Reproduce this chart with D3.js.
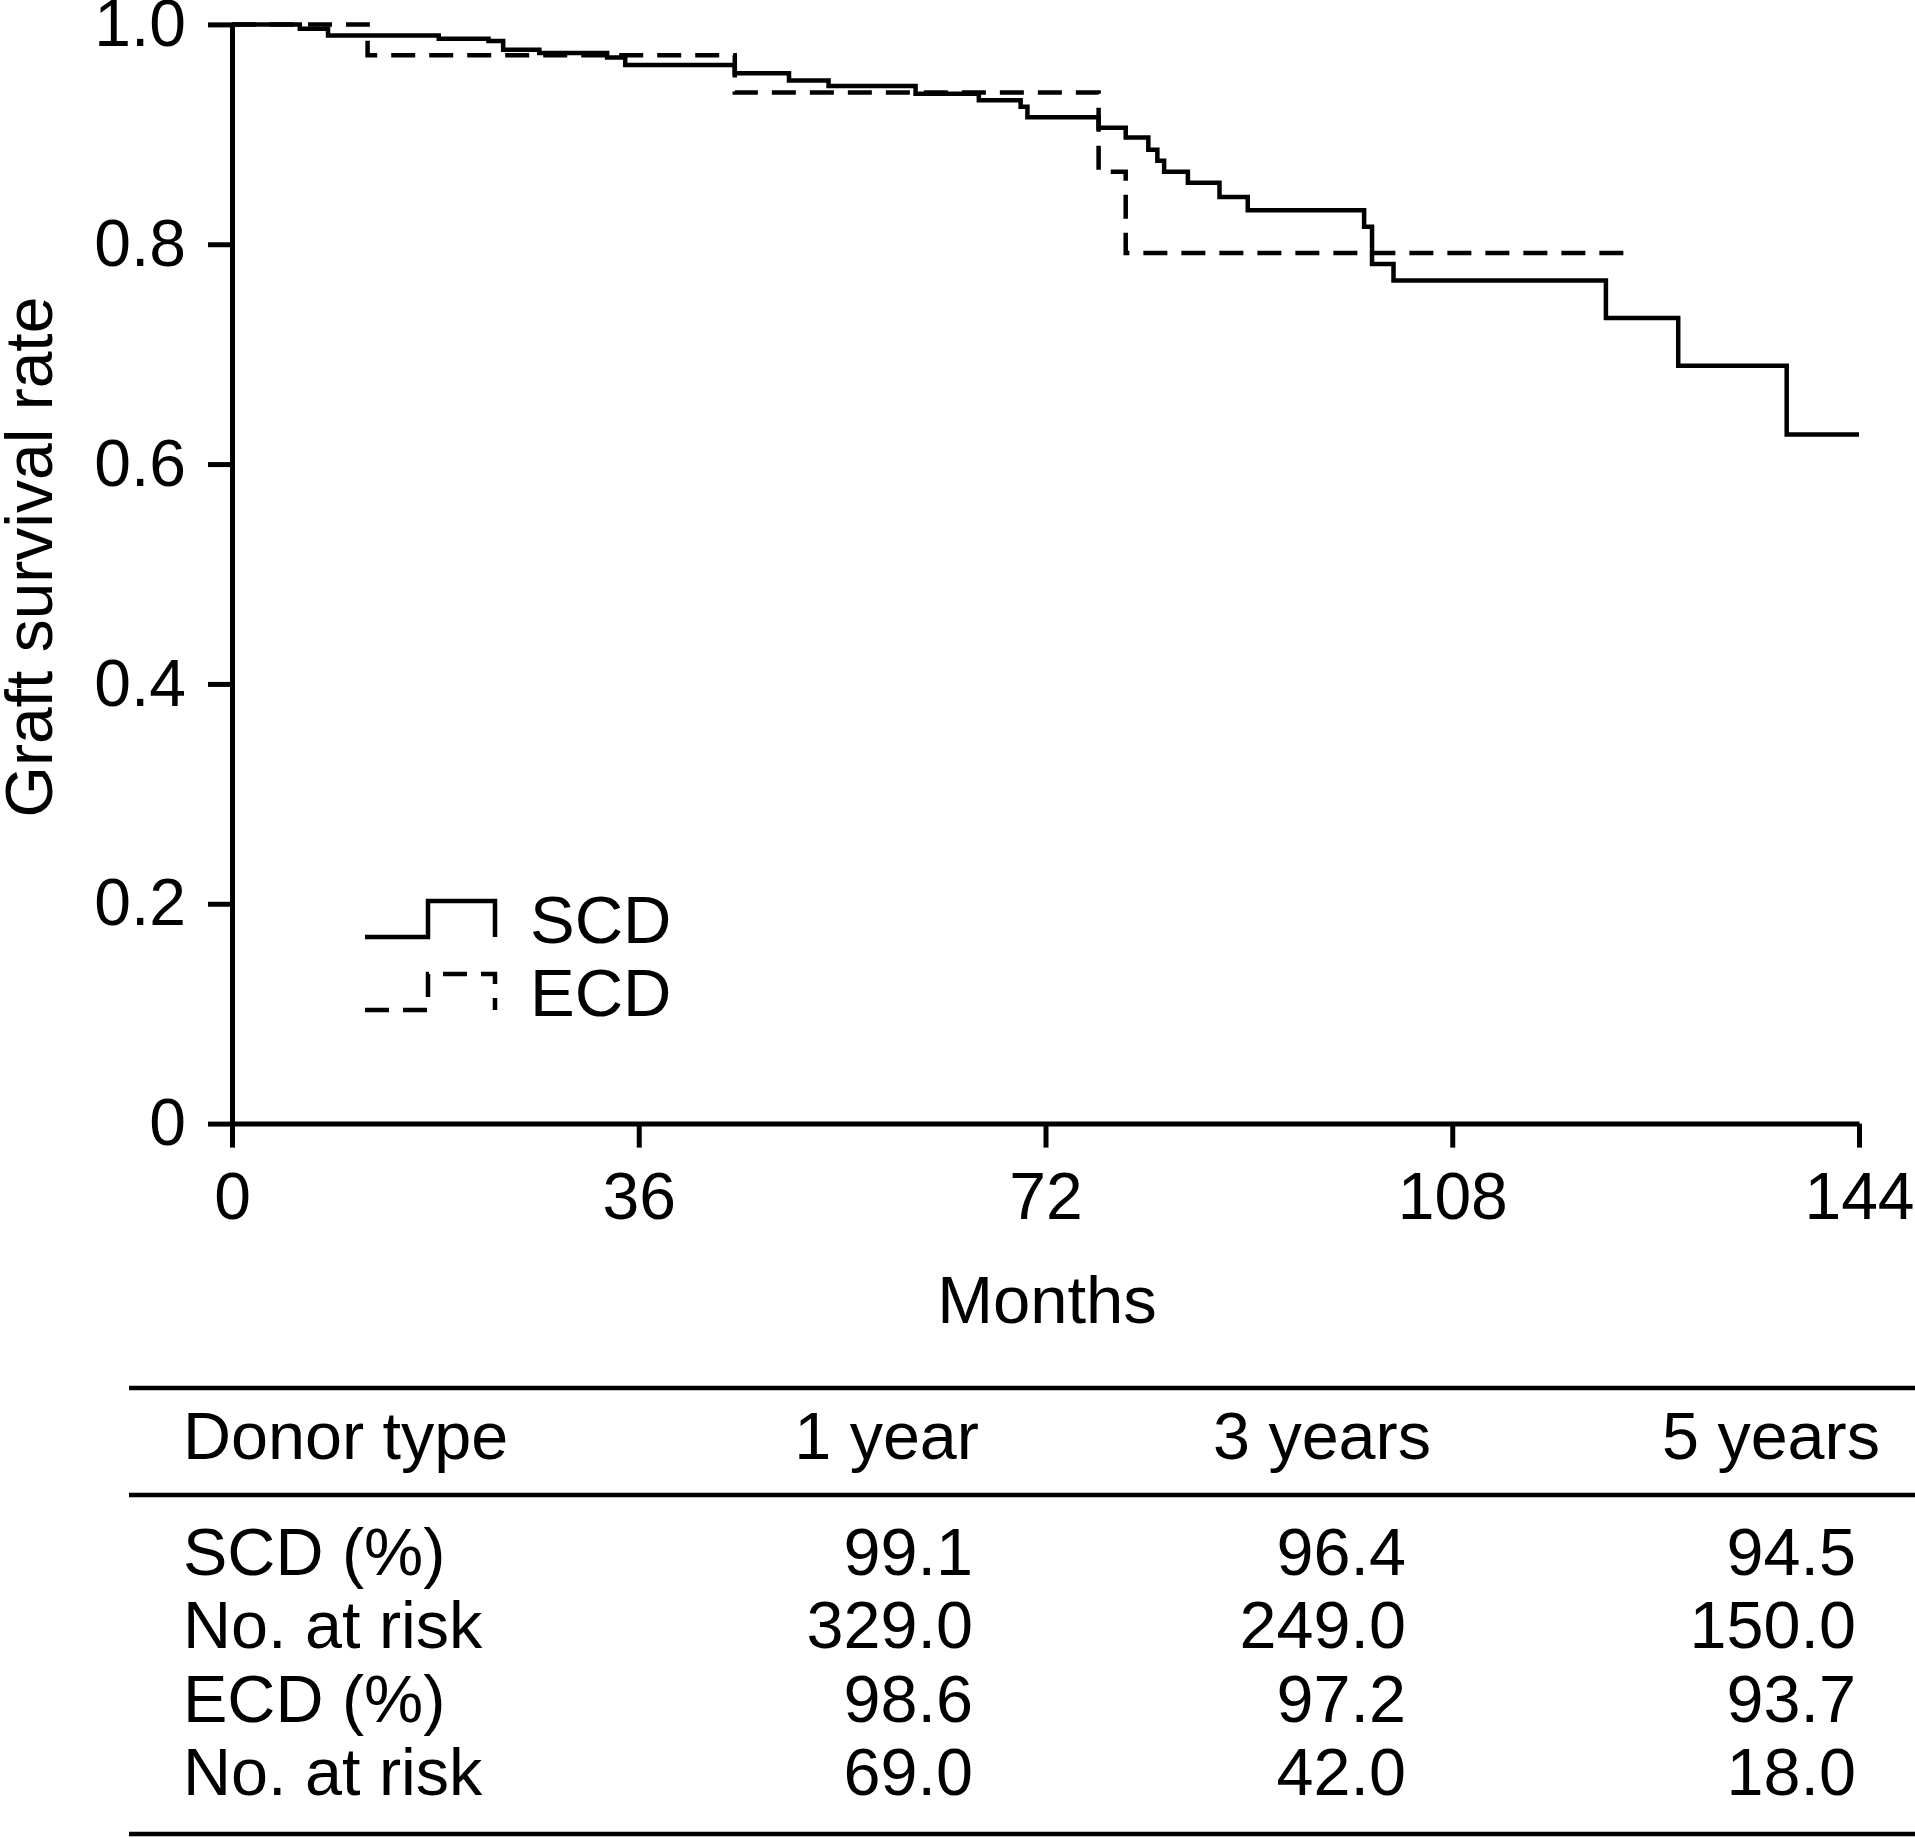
<!DOCTYPE html>
<html><head><meta charset="utf-8">
<script src="https://cdn.jsdelivr.net/npm/d3@7"></script>
<style>
html,body{margin:0;padding:0;background:#fff;}
svg{display:block;font-family:"Liberation Sans",Arial,sans-serif;}
</style></head>
<body>
<script>
// ---- data ----
const scdTimes = [0, 6.0, 8.5, 18.3, 22.7, 24.0, 27.2, 33.2, 34.8, 44.5, 49.3, 52.8, 60.5, 66.1, 69.8, 70.4, 76.7, 79.1, 81.1, 81.9, 82.5, 84.6, 87.4, 89.9, 100.2, 100.9, 102.8, 121.6, 128.0, 137.6, 144];
const scdSurv  = [1.0, 0.996, 0.990, 0.987, 0.985, 0.977, 0.974, 0.970, 0.963, 0.9555, 0.949, 0.944, 0.937, 0.931, 0.925, 0.9155, 0.906, 0.897, 0.886, 0.876, 0.866, 0.856, 0.843, 0.831, 0.816, 0.782, 0.767, 0.733, 0.6895, 0.627, 0.627];
const ecdTimes = [0, 12.0, 44.5, 76.7, 79.1, 123.7];
const ecdSurv  = [1.0, 0.972, 0.938, 0.866, 0.792, 0.792];
const xTicks = [0, 36, 72, 108, 144];
const yTicks = [0, 0.2, 0.4, 0.6, 0.8, 1.0];
const seriesNames = ["SCD", "ECD"];
const tableHeader = ["Donor type", "1 year", "3 years", "5 years"];
const rowLabels = ["SCD (%)", "No. at risk", "ECD (%)", "No. at risk"];
const col1Year = ["99.1", "329.0", "98.6", "69.0"];
const col3Years = ["96.4", "249.0", "97.2", "42.0"];
const col5Years = ["94.5", "150.0", "93.7", "18.0"];

// ---- layout ----
const W = 1915, H = 1838;
const svg = d3.select("body").append("svg").attr("width", W).attr("height", H);
const x = d3.scaleLinear().domain([0, 144]).range([232, 1859]);
const y = d3.scaleLinear().domain([0, 1]).range([1123.6, 24.4]);

// axes
const gx = svg.append("g").attr("transform", `translate(0,${y(0)})`)
  .call(d3.axisBottom(x).tickValues(xTicks).tickSize(24).tickSizeOuter(0).tickPadding(25));
const gy = svg.append("g").attr("transform", `translate(${x(0)},0)`)
  .call(d3.axisLeft(y).tickValues(yTicks).tickSize(24).tickSizeOuter(0).tickPadding(22)
    .tickFormat(d => d === 0 ? "0" : d.toFixed(1)));
[gx, gy].forEach(g => {
  g.selectAll("path.domain").attr("stroke", "#000").attr("stroke-width", 5);
  g.selectAll(".tick line").attr("stroke", "#000").attr("stroke-width", 5);
  g.selectAll(".tick text").attr("fill", "#000").attr("font-size", 66)
    .attr("font-family", "'Liberation Sans', Arial, sans-serif");
});

// curves
const line = d3.line().x(d => x(d[0])).y(d => y(d[1])).curve(d3.curveStepAfter);
const scd = scdTimes.map((t, i) => [t, scdSurv[i]]);
const ecd = ecdTimes.map((t, i) => [t, ecdSurv[i]]);
svg.append("path").datum(scd).attr("d", line).attr("fill", "none")
  .attr("stroke", "#000").attr("stroke-width", 4.5);
svg.append("path").datum(ecd).attr("d", line).attr("fill", "none")
  .attr("stroke", "#000").attr("stroke-width", 4.5).attr("stroke-dasharray", "24,14");

// axis titles
svg.append("text").attr("x", 1047).attr("y", 1323).attr("text-anchor", "middle")
  .attr("font-size", 67).text("Months");
svg.append("text").attr("transform", "translate(52,557) rotate(-90)").attr("text-anchor", "middle")
  .attr("font-size", 66).text("Graft survival rate");

// legend
const leg = svg.append("g");
const legendShape = (y0) => `M365,${y0} H428 V${y0 - 36} H495 V${y0}`;
leg.append("path").attr("d", legendShape(937)).attr("fill", "none").attr("stroke", "#000").attr("stroke-width", 4.5);
leg.append("path").attr("d", legendShape(1010)).attr("fill", "none").attr("stroke", "#000").attr("stroke-width", 4.5).attr("stroke-dasharray", "24,14");
leg.append("text").attr("x", 530).attr("y", 943).attr("font-size", 67).text(seriesNames[0]);
leg.append("text").attr("x", 530).attr("y", 1016).attr("font-size", 67).text(seriesNames[1]);

// table
const tb = svg.append("g");
[1388, 1495, 1834].forEach(yy => tb.append("line").attr("x1", 129).attr("x2", W).attr("y1", yy).attr("y2", yy)
  .attr("stroke", "#000").attr("stroke-width", 4.5));
const fs = 66.5;
tb.append("text").attr("x", 183).attr("y", 1459).attr("font-size", fs).text(tableHeader[0]);
const headRight = [979, 1431, 1880];
const valRight = [973, 1406, 1856];
[1, 2, 3].forEach((c, i) => tb.append("text").attr("x", headRight[i]).attr("y", 1459)
  .attr("text-anchor", "end").attr("font-size", fs).text(tableHeader[c]));
const rowY = [1575, 1648, 1722, 1795];
const cols = [col1Year, col3Years, col5Years];
rowLabels.forEach((lab, r) => {
  tb.append("text").attr("x", 183).attr("y", rowY[r]).attr("font-size", fs).text(lab);
  cols.forEach((col, c) => tb.append("text").attr("x", valRight[c]).attr("y", rowY[r])
    .attr("text-anchor", "end").attr("font-size", fs).text(col[r]));
});
</script>
</body></html>
